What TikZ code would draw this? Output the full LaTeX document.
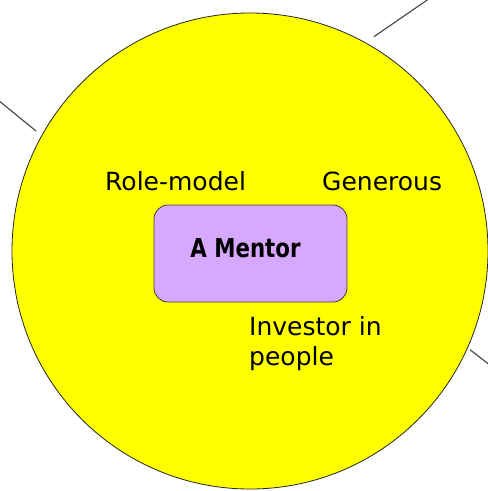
\documentclass[tikz,border=0pt]{standalone}
\usepackage{fontspec}
\setmainfont{DejaVu Sans}
\newfontfamily\condfont[FakeStretch=0.82]{DejaVu Sans}
\usetikzlibrary{calc}
\definecolor{mentorpurple}{RGB}{214,168,255}
\definecolor{circleyellow}{RGB}{255,255,0}

\begin{document}
\begin{tikzpicture}[x=1pt,y=-1pt,
        bigcircle/.style={circle, draw=black!85, line width=0.8pt, fill=circleyellow, minimum size=476pt, inner sep=0pt},
        mentorbox/.style={rectangle, rounded corners=14pt, draw=black!75, line width=0.8pt, fill=mentorpurple, minimum width=193pt, minimum height=97pt, font=\fontsize{26}{30}\selectfont},
        quality/.style={inner sep=0pt, font=\fontsize{25}{30}\selectfont},
        link/.style={draw=black!70, line width=1.2pt}]
        \useasboundingbox (0,0) rectangle (488,491);
        \node at (250,251) (person) [bigcircle] {};
        \node at (250.5,253.5) (mentor) [mentorbox] {\condfont\bfseries A Mentor\hspace{10pt}\rule[-11pt]{0pt}{0pt}};
        \node at (105,190) (rolemodel) [quality, anchor=base west] {Role-model};
        \node at (322,190) (generous) [quality, anchor=base west] {Generous};
        \node at (249,316) (investor) [quality, anchor=north west, align=left] {Investor in\\people};
        \coordinate (farA) at (454,-18.5);
        \coordinate (farB) at (-18,87);
        \coordinate (farC) at (504,376);
        \draw[link, shorten <=10pt] (person.61) -- (farA);
        \draw[link, shorten <=7pt] (person.151) -- (farB);
        \draw[link, shorten <=3pt] (person.-24) -- (farC);
\end{tikzpicture}
\end{document}
